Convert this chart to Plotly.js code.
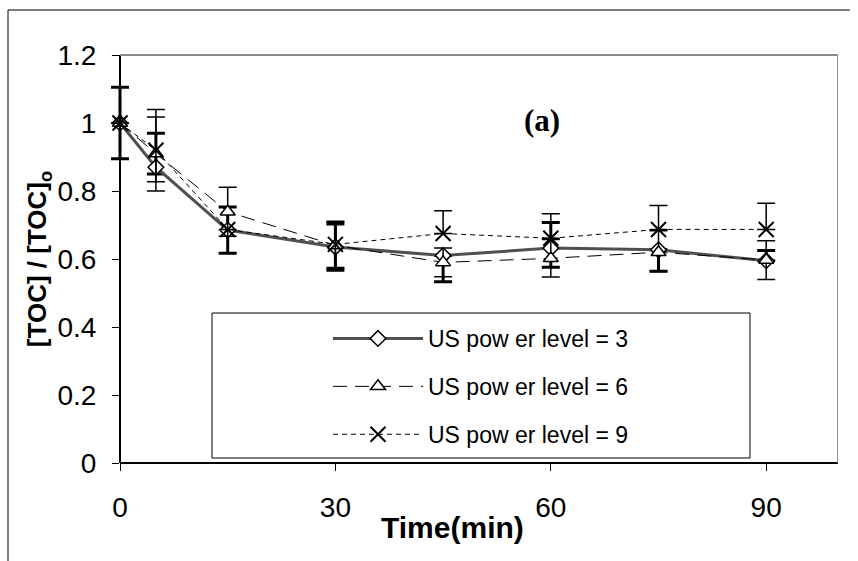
<!DOCTYPE html>
<html>
<head>
<meta charset="utf-8">
<script src="https://cdn.plot.ly/plotly-3.0.1.min.js"></script>
<style>html,body{margin:0;padding:0;background:#fff;}#chart{width:858px;height:561px;}</style>
</head>
<body>
<div id="chart"></div>
<script>
// Time (min)
const time = [0, 5, 15, 30, 45, 60, 75, 90];
// US power level = 3
const level3 = [1.0, 0.87, 0.685, 0.635, 0.61, 0.632, 0.627, 0.595];
const level3Plus = [0.105, 0.10, 0.068, 0.068, 0.0, 0.075, 0.0, 0.03];
const level3Minus = [0.105, 0.02, 0.068, 0.068, 0.077, 0.056, 0.063, 0.0];
// US power level = 6
const level6 = [1.0, 0.91, 0.739, 0.64, 0.59, 0.602, 0.62, 0.597];
const level6Plus = [0.0, 0.108, 0.072, 0.068, 0.042, 0.055, 0.063, 0.057];
const level6Minus = [0.0, 0.083, 0.072, 0.068, 0.042, 0.055, 0.057, 0.057];
// US power level = 9
const level9 = [1.0, 0.92, 0.687, 0.643, 0.675, 0.661, 0.687, 0.687];
const level9Plus = [0.0, 0.12, 0.0, 0.068, 0.067, 0.072, 0.07, 0.077];
const level9Minus = [0.0, 0.12, 0.0, 0.068, 0.0, 0.0, 0.0, 0.0];

const names = ['US pow er level = 3', 'US pow er level = 6', 'US pow er level = 9'];
const xTicks = [0, 30, 60, 90];

const FONT = 'Arial, "Liberation Sans", sans-serif';

const traces = [
  {
    x: time, y: level3, name: names[0], type: 'scatter', mode: 'lines+markers',
    legendgroup: 'a', cliponaxis: false,
    line: {color: '#505050', width: 3},
    marker: {symbol: 'diamond', size: 12, color: '#ffffff', line: {color: '#000', width: 1.5}},
    error_y: {type: 'data', symmetric: false, array: level3Plus, arrayminus: level3Minus,
              color: '#000', thickness: 3, width: 9}
  },
  {
    x: time, y: level6, name: names[1], type: 'scatter', mode: 'lines+markers',
    legendgroup: 'b', cliponaxis: false,
    line: {color: '#000', width: 1, dash: '14px,8px'},
    marker: {symbol: 'triangle-up', size: 13, color: '#ffffff', line: {color: '#000', width: 1.5}},
    error_y: {type: 'data', symmetric: false, array: level6Plus, arrayminus: level6Minus,
              color: '#000', thickness: 1.5, width: 9}
  },
  {
    x: time, y: level9, name: names[2], type: 'scatter', mode: 'lines+markers',
    legendgroup: 'c', cliponaxis: false,
    line: {color: '#000', width: 1, dash: '5px,4px'},
    marker: {symbol: 'x-thin-open', size: 15, color: '#000', line: {color: '#000', width: 2}},
    error_y: {type: 'data', symmetric: false, array: level9Plus, arrayminus: level9Minus,
              color: '#000', thickness: 1.5, width: 9}
  }
];

// frame geometry (pixels): plot area drawn from x=0 at 120px to x=100 at 838px;
// the subplot starts a little to the left so the error bar cap at t=0 is not clipped.
const X0PX = 120, R = 838, T = 55, B = 463, PAD = 12;
const L = X0PX - PAD;
const XMAX = 100;
const XMIN = -PAD * XMAX / (R - X0PX);
const px = v => (v - L) / (R - L);
const py = v => (B - v) / (B - T);

const layout = {
  width: 858, height: 561,
  margin: {l: L, r: 858 - R, t: T, b: 561 - B},
  paper_bgcolor: '#fff', plot_bgcolor: '#fff',
  font: {family: FONT, color: '#000'},
  showlegend: true,
  legend: {
    x: px(328), y: py(317), xanchor: 'left', yanchor: 'top',
    bgcolor: 'rgba(0,0,0,0)', borderwidth: 0,
    font: {family: FONT, size: 23, color: '#000'},
    itemwidth: 90, traceorder: 'grouped', tracegroupgap: 15
  },
  xaxis: {
    range: [XMIN, XMAX], tickvals: xTicks, ticktext: xTicks.map(String),
    showgrid: false, zeroline: false, showline: false,
    ticks: 'outside', ticklen: 7, tickwidth: 1, tickcolor: '#000',
    tickfont: {family: FONT, size: 28}, ticklabelstandoff: 12
  },
  yaxis: {
    range: [0, 1.2], dtick: 0.2, tick0: 0,
    anchor: 'free', position: px(X0PX),
    showgrid: false, zeroline: false, showline: true, linecolor: '#000', linewidth: 2,
    ticks: 'outside', ticklen: 7, tickwidth: 1, tickcolor: '#000',
    tickfont: {family: FONT, size: 28}, ticklabelstandoff: 10,
    title: {text: '[TOC] / [TOC]<sub>o</sub>', font: {family: FONT, size: 26, weight: 700}, standoff: 2}
  },
  shapes: [
    // legend box
    {type: 'rect', xref: 'paper', yref: 'paper', x0: px(212), x1: px(750), y0: py(458), y1: py(313),
     line: {color: '#000', width: 1}, fillcolor: '#fff', layer: 'below'},
    // x axis line (black) from t=0 to the right edge
    {type: 'line', xref: 'x', yref: 'paper', x0: 0, x1: XMAX, y0: 0, y1: 0, line: {color: '#000', width: 2}},
    // plot area top and right border (grey)
    {type: 'line', xref: 'x', yref: 'paper', x0: 0, x1: XMAX, y0: 1, y1: 1, line: {color: '#8c8c8c', width: 2}},
    {type: 'line', xref: 'x', yref: 'paper', x0: XMAX, x1: XMAX, y0: 0, y1: 1, line: {color: '#8c8c8c', width: 2}},
    // outer frame
    {type: 'line', xref: 'paper', yref: 'paper', x0: px(8), x1: px(850), y0: py(10), y1: py(10), line: {color: '#000', width: 1}},
    {type: 'line', xref: 'paper', yref: 'paper', x0: px(8), x1: px(8), y0: py(10), y1: py(561), line: {color: '#000', width: 1}}
  ],
  annotations: [
    {text: '<b>(a)</b>', xref: 'paper', yref: 'paper', x: px(542), y: py(120), showarrow: false,
     xanchor: 'center', yanchor: 'middle', font: {family: '"Liberation Serif", "Times New Roman", serif', size: 31, color: '#000'}},
    {text: '<b>Time(min)</b>', xref: 'paper', yref: 'paper', x: px(452), y: py(527), showarrow: false,
     xanchor: 'center', yanchor: 'middle', font: {family: FONT, size: 30, color: '#000'}}
  ]
};

Plotly.newPlot('chart', traces, layout, {displayModeBar: false, staticPlot: true});
</script>
</body>
</html>
